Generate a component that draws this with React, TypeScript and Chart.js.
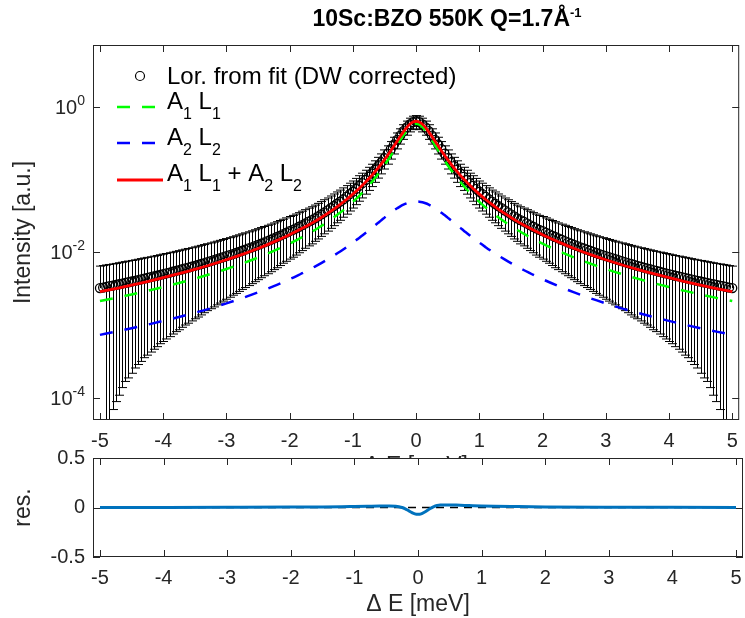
import React, { useEffect, useRef } from 'react';
import { Chart, registerables } from 'chart.js';

Chart.register(...registerables);

const FONT = '"Liberation Sans", Arial, Helvetica, sans-serif';
const AXIS = '#262626';

// ---- measured data (energy transfer, meV) ----
const energy = [
  -5, -4.95, -4.9, -4.85, -4.8, -4.75, -4.7, -4.65, -4.6, -4.55,
  -4.5, -4.45, -4.4, -4.35, -4.3, -4.25, -4.2, -4.15, -4.1, -4.05,
  -4, -3.95, -3.9, -3.85, -3.8, -3.75, -3.7, -3.65, -3.6, -3.55,
  -3.5, -3.45, -3.4, -3.35, -3.3, -3.25, -3.2, -3.15, -3.1, -3.05,
  -3, -2.95, -2.9, -2.85, -2.8, -2.75, -2.7, -2.65, -2.6, -2.55,
  -2.5, -2.45, -2.4, -2.35, -2.3, -2.25, -2.2, -2.15, -2.1, -2.05,
  -2, -1.95, -1.9, -1.85, -1.8, -1.75, -1.7, -1.65, -1.6, -1.55,
  -1.5, -1.45, -1.4, -1.35, -1.3, -1.25, -1.2, -1.15, -1.1, -1.05,
  -1, -0.95, -0.9, -0.85, -0.8, -0.75, -0.7, -0.65, -0.6, -0.55,
  -0.5, -0.45, -0.4, -0.35, -0.3, -0.25, -0.2, -0.15, -0.1, -0.05,
  0,
  0.05, 0.1, 0.15, 0.2, 0.25, 0.3, 0.35, 0.4, 0.45, 0.5,
  0.55, 0.6, 0.65, 0.7, 0.75, 0.8, 0.85, 0.9, 0.95, 1,
  1.05, 1.1, 1.15, 1.2, 1.25, 1.3, 1.35, 1.4, 1.45, 1.5,
  1.55, 1.6, 1.65, 1.7, 1.75, 1.8, 1.85, 1.9, 1.95, 2,
  2.05, 2.1, 2.15, 2.2, 2.25, 2.3, 2.35, 2.4, 2.45, 2.5,
  2.55, 2.6, 2.65, 2.7, 2.75, 2.8, 2.85, 2.9, 2.95, 3,
  3.05, 3.1, 3.15, 3.2, 3.25, 3.3, 3.35, 3.4, 3.45, 3.5,
  3.55, 3.6, 3.65, 3.7, 3.75, 3.8, 3.85, 3.9, 3.95, 4,
  4.05, 4.1, 4.15, 4.2, 4.25, 4.3, 4.35, 4.4, 4.45, 4.5,
  4.55, 4.6, 4.65, 4.7, 4.75, 4.8, 4.85, 4.9, 4.95, 5,
];

const intensity = [
  0.00324, 0.0033, 0.00337, 0.00344, 0.00351, 0.00358, 0.00366, 0.00374, 0.00382, 0.0039,
  0.00399, 0.00408, 0.00417, 0.00427, 0.00437, 0.00447, 0.00457, 0.00468, 0.00479, 0.00492,
  0.00504, 0.00516, 0.0053, 0.00543, 0.00558, 0.00572, 0.00588, 0.00604, 0.0062, 0.00637,
  0.00656, 0.00674, 0.00694, 0.00715, 0.00737, 0.00759, 0.00783, 0.00808, 0.00833, 0.0086,
  0.00888, 0.00918, 0.0095, 0.00982, 0.01017, 0.01054, 0.01092, 0.01133, 0.01176, 0.01221,
  0.01269, 0.0132, 0.01374, 0.01432, 0.01493, 0.01558, 0.01627, 0.01701, 0.01781, 0.01866,
  0.0196, 0.0204, 0.0214, 0.0225, 0.0237, 0.025, 0.0264, 0.0277, 0.0294, 0.0312,
  0.0332, 0.0354, 0.0377, 0.0404, 0.0433, 0.0465, 0.0496, 0.0536, 0.058, 0.063,
  0.068, 0.0744, 0.0816, 0.089, 0.0985, 0.109, 0.121, 0.136, 0.153, 0.172,
  0.197, 0.226, 0.261, 0.302, 0.349, 0.401, 0.46, 0.519, 0.572, 0.611,
  0.624,
  0.611, 0.572, 0.519, 0.46, 0.401, 0.349, 0.302, 0.261, 0.226, 0.197,
  0.172, 0.153, 0.136, 0.121, 0.109, 0.0985, 0.089, 0.0816, 0.0744, 0.068,
  0.063, 0.058, 0.0536, 0.0496, 0.0465, 0.0433, 0.0404, 0.0377, 0.0354, 0.0332,
  0.0312, 0.0294, 0.0277, 0.0264, 0.025, 0.0237, 0.0225, 0.0214, 0.0204, 0.0196,
  0.01866, 0.01781, 0.01701, 0.01627, 0.01558, 0.01493, 0.01432, 0.01374, 0.0132, 0.01269,
  0.01221, 0.01176, 0.01133, 0.01092, 0.01054, 0.01017, 0.00982, 0.0095, 0.00918, 0.00888,
  0.0086, 0.00833, 0.00808, 0.00783, 0.00759, 0.00737, 0.00715, 0.00694, 0.00674, 0.00656,
  0.00637, 0.0062, 0.00604, 0.00588, 0.00572, 0.00558, 0.00543, 0.0053, 0.00516, 0.00504,
  0.00492, 0.00479, 0.00468, 0.00457, 0.00447, 0.00437, 0.00427, 0.00417, 0.00408, 0.00399,
  0.0039, 0.00382, 0.00374, 0.00366, 0.00358, 0.00351, 0.00344, 0.00337, 0.0033, 0.00324,
];

const intensityErr = [
  0.00325, 0.0033, 0.00335, 0.0034, 0.00344, 0.00349, 0.00355, 0.0036, 0.00365, 0.00371,
  0.00377, 0.00382, 0.00388, 0.00395, 0.00401, 0.00408, 0.00414, 0.00421, 0.00428, 0.00436,
  0.00444, 0.00451, 0.0046, 0.00467, 0.00476, 0.00485, 0.00494, 0.00503, 0.00513, 0.00522,
  0.00533, 0.00544, 0.00555, 0.00566, 0.00578, 0.0059, 0.00604, 0.00617, 0.00631, 0.00645,
  0.0066, 0.00675, 0.00691, 0.00708, 0.00725, 0.00743, 0.00762, 0.00782, 0.00803, 0.00824,
  0.00846, 0.0087, 0.00895, 0.00922, 0.00949, 0.00977, 0.0101, 0.0104, 0.0107, 0.0111,
  0.0115, 0.0118, 0.0122, 0.0126, 0.0131, 0.0136, 0.0141, 0.0146, 0.0152, 0.0159,
  0.0166, 0.0174, 0.0181, 0.019, 0.02, 0.021, 0.022, 0.0232, 0.0245, 0.026,
  0.0274, 0.0292, 0.0312, 0.0331, 0.0355, 0.0381, 0.041, 0.0445, 0.0484, 0.0525,
  0.0577, 0.0636, 0.0703, 0.0779, 0.0861, 0.095, 0.1045, 0.1137, 0.1218, 0.1275,
  0.1294,
  0.1275, 0.1218, 0.1137, 0.1045, 0.095, 0.0861, 0.0779, 0.0703, 0.0636, 0.0577,
  0.0525, 0.0484, 0.0445, 0.041, 0.0381, 0.0355, 0.0331, 0.0312, 0.0292, 0.0274,
  0.026, 0.0245, 0.0232, 0.022, 0.021, 0.02, 0.019, 0.0181, 0.0174, 0.0166,
  0.0159, 0.0152, 0.0146, 0.0141, 0.0136, 0.0131, 0.0126, 0.0122, 0.0118, 0.0115,
  0.0111, 0.0107, 0.0104, 0.0101, 0.00977, 0.00949, 0.00922, 0.00895, 0.0087, 0.00846,
  0.00824, 0.00803, 0.00782, 0.00762, 0.00743, 0.00725, 0.00708, 0.00691, 0.00675, 0.0066,
  0.00645, 0.00631, 0.00617, 0.00604, 0.0059, 0.00578, 0.00566, 0.00555, 0.00544, 0.00533,
  0.00522, 0.00513, 0.00503, 0.00494, 0.00485, 0.00476, 0.00467, 0.0046, 0.00451, 0.00444,
  0.00436, 0.00428, 0.00421, 0.00414, 0.00408, 0.00401, 0.00395, 0.00388, 0.00382, 0.00377,
  0.00371, 0.00365, 0.0036, 0.00355, 0.00349, 0.00344, 0.0034, 0.00335, 0.0033, 0.00325,
];

// ---- fitted components ----
const fitEnergy = [
  -5, -4.75, -4.5, -4.25, -4, -3.75, -3.5, -3.25, -3, -2.75, -2.5, -2.25,
  -2, -1.9, -1.8, -1.7, -1.6, -1.5, -1.4, -1.3, -1.2, -1.1,
  -1, -0.95, -0.9, -0.85, -0.8, -0.75, -0.7, -0.65, -0.6, -0.55,
  -0.5, -0.45, -0.4, -0.35, -0.3, -0.25, -0.2, -0.15, -0.1, -0.05,
  0,
  0.05, 0.1, 0.15, 0.2, 0.25, 0.3, 0.35, 0.4, 0.45, 0.5,
  0.55, 0.6, 0.65, 0.7, 0.75, 0.8, 0.85, 0.9, 0.95, 1,
  1.1, 1.2, 1.3, 1.4, 1.5, 1.6, 1.7, 1.8, 1.9, 2,
  2.25, 2.5, 2.75, 3, 3.25, 3.5, 3.75, 4, 4.25, 4.5, 4.75, 5,
];

const lor1 = [
  0.00215, 0.00238, 0.00265, 0.00297, 0.00335, 0.00381, 0.00437, 0.00506, 0.00593, 0.00705, 0.0085, 0.0105,
  0.0132, 0.0146, 0.0162, 0.0181, 0.0203, 0.023, 0.0263, 0.0303, 0.0352, 0.0414,
  0.0494, 0.0542, 0.0597, 0.0661, 0.0736, 0.0823, 0.0925, 0.1046, 0.1191, 0.1364,
  0.1573, 0.1825, 0.2132, 0.2503, 0.2948, 0.3469, 0.4056, 0.467, 0.5237, 0.5648,
  0.58,
  0.5648, 0.5237, 0.467, 0.4056, 0.3469, 0.2948, 0.2503, 0.2132, 0.1825, 0.1573,
  0.1364, 0.1191, 0.1046, 0.0925, 0.0823, 0.0736, 0.0661, 0.0597, 0.0542, 0.0494,
  0.0414, 0.0352, 0.0303, 0.0263, 0.023, 0.0203, 0.0181, 0.0162, 0.0146, 0.0132,
  0.0105, 0.0085, 0.00705, 0.00593, 0.00506, 0.00437, 0.00381, 0.00335, 0.00297, 0.00265, 0.00238, 0.00215,
];

const lor2 = [
  0.00074, 0.00082, 0.00091, 0.00102, 0.00115, 0.0013, 0.00149, 0.00171, 0.002, 0.00236, 0.00283, 0.00345,
  0.00429, 0.0047, 0.00519, 0.00574, 0.00639, 0.00714, 0.00803, 0.00908, 0.0103, 0.0118,
  0.0136, 0.0147, 0.0158, 0.0171, 0.0185, 0.02, 0.0217, 0.0235, 0.0255, 0.0277,
  0.03, 0.0325, 0.035, 0.0377, 0.0403, 0.0429, 0.0452, 0.0472, 0.0487, 0.0497,
  0.05,
  0.0497, 0.0487, 0.0472, 0.0452, 0.0429, 0.0403, 0.0377, 0.035, 0.0325, 0.03,
  0.0277, 0.0255, 0.0235, 0.0217, 0.02, 0.0185, 0.0171, 0.0158, 0.0147, 0.0136,
  0.0118, 0.0103, 0.00908, 0.00803, 0.00714, 0.00639, 0.00574, 0.00519, 0.0047, 0.00429,
  0.00345, 0.00283, 0.00236, 0.002, 0.00171, 0.00149, 0.0013, 0.00115, 0.00102, 0.00091, 0.00082, 0.00074,
];

// ---- residuals ----
const resEnergy = [
  -5, -4, -3, -2, -1.5, -1.2, -1, -0.8, -0.6, -0.45, -0.35, -0.3, -0.25, -0.2, -0.15, -0.1, -0.05,
  0,
  0.05, 0.1, 0.15, 0.2, 0.25, 0.3, 0.35, 0.45, 0.6, 0.8, 1, 1.2, 1.5, 2, 3, 4, 5,
];
const residual = [
  0.001, 0.001, 0.002, 0.004, 0.006, 0.008, 0.01, 0.012, 0.014, 0.015, 0.013, 0.008, 0.0, -0.014, -0.032, -0.05, -0.064,
  -0.069,
  -0.064, -0.048, -0.028, -0.008, 0.01, 0.02, 0.025, 0.026, 0.024, 0.02, 0.016, 0.013, 0.01, 0.006, 0.003, 0.002, 0.001,
];

const xTicks = [-5, -4, -3, -2, -1, 0, 1, 2, 3, 4, 5];
const topYTicks = [1e-4, 1e-2, 1];
const topYTickExp = ['-4', '-2', '0'];
const resYTicks = [-0.5, 0, 0.5];
const resYTickLabels = ['-0.5', '0', '0.5'];

const TL = 7;

type Part = { t: string; s?: 'sub' | 'sup' };

function drawRich(ctx: CanvasRenderingContext2D, parts: Part[], x: number, baseline: number, size: number, small: number, dySub: number, dySup: number, weight = '') {
  let cx = x;
  ctx.textAlign = 'left';
  ctx.textBaseline = 'alphabetic';
  for (const p of parts) {
    const fs = p.s ? small : size;
    ctx.font = `${weight} ${fs}px ${FONT}`;
    const dy = p.s === 'sub' ? dySub : p.s === 'sup' ? -dySup : 0;
    ctx.fillText(p.t, cx, baseline + dy);
    cx += ctx.measureText(p.t).width;
  }
  return cx - x;
}

function measureRich(ctx: CanvasRenderingContext2D, parts: Part[], size: number, small: number, weight = '') {
  let w = 0;
  for (const p of parts) {
    ctx.font = `${weight} ${p.s ? small : size}px ${FONT}`;
    w += ctx.measureText(p.t).width;
  }
  return w;
}

function drawVLabel(ctx: CanvasRenderingContext2D, text: string, x: number, y: number, size: number) {
  ctx.save();
  ctx.translate(x, y);
  ctx.rotate(-Math.PI / 2);
  ctx.font = `${size}px ${FONT}`;
  ctx.fillStyle = AXIS;
  ctx.textAlign = 'center';
  ctx.textBaseline = 'middle';
  ctx.fillText(text, 0, 0);
  ctx.restore();
}

function drawFrame(chart: any, yTicks: number[]) {
  const { ctx, chartArea: a, scales } = chart;
  ctx.save();
  ctx.strokeStyle = AXIS;
  ctx.lineWidth = 1;
  ctx.beginPath();
  xTicks.forEach((t) => {
    const p = Math.round(scales.x.getPixelForValue(t)) + 0.5;
    ctx.moveTo(p, a.bottom);
    ctx.lineTo(p, a.bottom - TL);
    ctx.moveTo(p, a.top);
    ctx.lineTo(p, a.top + TL);
  });
  yTicks.forEach((t) => {
    const p = Math.round(scales.y.getPixelForValue(t)) + 0.5;
    ctx.moveTo(a.left, p);
    ctx.lineTo(a.left + TL, p);
    ctx.moveTo(a.right, p);
    ctx.lineTo(a.right - TL, p);
  });
  ctx.stroke();
  ctx.strokeRect(a.left + 0.5, a.top + 0.5, a.right - a.left - 1, a.bottom - a.top - 1);
  ctx.fillStyle = AXIS;
  ctx.font = `20px ${FONT}`;
  ctx.textAlign = 'center';
  ctx.textBaseline = 'middle';
  xTicks.forEach((t) => ctx.fillText(String(t), scales.x.getPixelForValue(t), a.bottom + 21));
  ctx.restore();
}

const errorBarsPlugin = {
  id: 'errorBars',
  beforeDatasetsDraw(chart: any) {
    const { ctx, chartArea: a, scales } = chart;
    const xs = scales.x;
    const ys = scales.y;
    ctx.save();
    ctx.beginPath();
    ctx.rect(a.left, a.top, a.right - a.left, a.bottom - a.top);
    ctx.clip();
    ctx.strokeStyle = '#000';
    ctx.lineWidth = 1;
    ctx.beginPath();
    const cap = 4.5;
    energy.forEach((e, i) => {
      const px = Math.round(xs.getPixelForValue(e)) + 0.5;
      const v = intensity[i];
      const d = intensityErr[i];
      const pv = ys.getPixelForValue(v);
      const pu = ys.getPixelForValue(v + d);
      ctx.moveTo(px, pv);
      ctx.lineTo(px, pu);
      ctx.moveTo(px - cap, pu);
      ctx.lineTo(px + cap, pu);
      if (v - d > 0) {
        const pl = ys.getPixelForValue(v - d);
        ctx.moveTo(px, pv);
        ctx.lineTo(px, pl);
        ctx.moveTo(px - cap, pl);
        ctx.lineTo(px + cap, pl);
      }
    });
    ctx.stroke();
    ctx.restore();
  },
};

const LEG = 24;
const LEG_SUB = 16;

const topDecor = {
  id: 'topDecor',
  afterDraw(chart: any) {
    const { ctx, chartArea: a, scales } = chart;
    drawFrame(chart, topYTicks);
    ctx.save();
    // y tick labels 10^n
    ctx.fillStyle = AXIS;
    topYTicks.forEach((t, i) => {
      const py = scales.y.getPixelForValue(t);
      const parts: Part[] = [{ t: '10' }, { t: topYTickExp[i], s: 'sup' }];
      const w = measureRich(ctx, parts, 20, 14);
      drawRich(ctx, parts, 85 - w, py + 7, 20, 14, 0, 9);
    });
    // axis labels
    drawVLabel(ctx, 'Intensity [a.u.]', 24, (a.top + a.bottom) / 2, 23);
    ctx.fillStyle = AXIS;
    ctx.font = `23px ${FONT}`;
    ctx.textAlign = 'center';
    ctx.textBaseline = 'middle';
    ctx.fillText('\u0394 E [meV]', (a.left + a.right) / 2, 467);
    // title
    ctx.fillStyle = '#000';
    const tparts: Part[] = [{ t: '10Sc:BZO 550K Q=1.7\u00C5' }, { t: '-1', s: 'sup' }];
    const tw = measureRich(ctx, tparts, 23, 13, 'bold');
    drawRich(ctx, tparts, 447 - tw / 2, 26, 23, 13, 0, 9, 'bold');
    // legend
    const lx0 = 117;
    const lx1 = 163;
    const tx = 167;
    ctx.fillStyle = '#000';
    ctx.strokeStyle = '#000';
    ctx.lineWidth = 1.2;
    ctx.beginPath();
    ctx.arc(140, 76, 4.5, 0, Math.PI * 2);
    ctx.stroke();
    drawRich(ctx, [{ t: 'Lor. from fit (DW corrected)' }], tx, 84, LEG, LEG_SUB, 10, 9);
    ctx.lineWidth = 2.5;
    ctx.setLineDash([13, 12]);
    ctx.strokeStyle = '#00ff00';
    ctx.beginPath();
    ctx.moveTo(lx0, 107);
    ctx.lineTo(lx1, 107);
    ctx.stroke();
    drawRich(ctx, [{ t: 'A' }, { t: '1', s: 'sub' }, { t: ' L' }, { t: '1', s: 'sub' }], tx, 109, LEG, LEG_SUB, 10, 9);
    ctx.strokeStyle = '#0000ff';
    ctx.beginPath();
    ctx.moveTo(lx0, 143);
    ctx.lineTo(lx1, 143);
    ctx.stroke();
    drawRich(ctx, [{ t: 'A' }, { t: '2', s: 'sub' }, { t: ' L' }, { t: '2', s: 'sub' }], tx, 145, LEG, LEG_SUB, 10, 9);
    ctx.setLineDash([]);
    ctx.lineWidth = 2.8;
    ctx.strokeStyle = '#ff0000';
    ctx.beginPath();
    ctx.moveTo(lx0, 180);
    ctx.lineTo(lx1, 180);
    ctx.stroke();
    drawRich(
      ctx,
      [{ t: 'A' }, { t: '1', s: 'sub' }, { t: ' L' }, { t: '1', s: 'sub' }, { t: ' + A' }, { t: '2', s: 'sub' }, { t: ' L' }, { t: '2', s: 'sub' }],
      tx, 181, LEG, LEG_SUB, 10, 9,
    );
    ctx.restore();
  },
};

const botDecor = {
  id: 'botDecor',
  beforeDraw(chart: any) {
    const { ctx, chartArea: a } = chart;
    ctx.save();
    ctx.fillStyle = '#fff';
    ctx.fillRect(a.left, a.top, a.right - a.left, a.bottom - a.top);
    ctx.restore();
  },
  afterDraw(chart: any) {
    const { ctx, chartArea: a, scales } = chart;
    drawFrame(chart, resYTicks);
    ctx.save();
    ctx.fillStyle = AXIS;
    ctx.font = `20px ${FONT}`;
    ctx.textAlign = 'right';
    ctx.textBaseline = 'middle';
    resYTicks.forEach((t, i) => ctx.fillText(resYTickLabels[i], 85, scales.y.getPixelForValue(t)));
    drawVLabel(ctx, 'res.', 24, (a.top + a.bottom) / 2, 23);
    ctx.fillStyle = AXIS;
    ctx.font = `23px ${FONT}`;
    ctx.textAlign = 'center';
    ctx.textBaseline = 'middle';
    ctx.fillText('\u0394 E [meV]', (a.left + a.right) / 2, 165);
    ctx.restore();
  },
};

export default function App() {
  const topRef = useRef<HTMLCanvasElement>(null);
  const botRef = useRef<HTMLCanvasElement>(null);

  useEffect(() => {
    const lorSum = lor1.map((v, i) => v + lor2[i]);
    const top = new Chart(topRef.current as HTMLCanvasElement, {
      type: 'line',
      data: {
        datasets: [
          {
            label: 'Lor. from fit (DW corrected)',
            data: energy.map((x, i) => ({ x, y: intensity[i] })),
            showLine: false,
            pointRadius: 4.5,
            pointBorderWidth: 1.3,
            pointBorderColor: '#000',
            pointBackgroundColor: 'rgba(0,0,0,0)',
            order: 4,
          },
          {
            label: 'A1 L1',
            data: fitEnergy.map((x, i) => ({ x, y: lor1[i] })),
            borderColor: '#00ff00',
            borderWidth: 2.5,
            borderDash: [13, 12],
            pointRadius: 0,
            cubicInterpolationMode: 'monotone',
            order: 3,
          },
          {
            label: 'A2 L2',
            data: fitEnergy.map((x, i) => ({ x, y: lor2[i] })),
            borderColor: '#0000ff',
            borderWidth: 2.5,
            borderDash: [13, 12],
            pointRadius: 0,
            cubicInterpolationMode: 'monotone',
            order: 2,
          },
          {
            label: 'A1 L1 + A2 L2',
            data: fitEnergy.map((x, i) => ({ x, y: lorSum[i] })),
            borderColor: '#ff0000',
            borderWidth: 2.8,
            pointRadius: 0,
            cubicInterpolationMode: 'monotone',
            order: 1,
          },
        ],
      },
      options: {
        responsive: false,
        animation: false,
        devicePixelRatio: 1,
        layout: { padding: { left: 93, right: 2, top: 45, bottom: 60 } },
        scales: {
          x: { type: 'linear', min: -5.11, max: 5.11, display: false },
          y: { type: 'logarithmic', min: 5.03e-5, max: 7.0, display: false },
        },
        plugins: { legend: { display: false }, tooltip: { enabled: false }, title: { display: false } },
      },
      plugins: [errorBarsPlugin, topDecor],
    } as any);

    const bot = new Chart(botRef.current as HTMLCanvasElement, {
      type: 'line',
      data: {
        datasets: [
          {
            label: 'res',
            data: resEnergy.map((x, i) => ({ x, y: residual[i] })),
            borderColor: '#0072BD',
            borderWidth: 3,
            pointRadius: 0,
            cubicInterpolationMode: 'monotone',
            order: 1,
          },
          {
            label: 'zero',
            data: [resEnergy[0], resEnergy[resEnergy.length - 1]].map((x) => ({ x, y: 0 })),
            borderColor: '#000',
            borderWidth: 1.5,
            borderDash: [8, 6],
            pointRadius: 0,
            order: 2,
          },
        ],
      },
      options: {
        responsive: false,
        animation: false,
        devicePixelRatio: 1,
        layout: { padding: { left: 93, right: 2, top: 18, bottom: 61 } },
        scales: {
          x: { type: 'linear', min: -5.11, max: 5.11, display: false },
          y: { type: 'linear', min: -0.5, max: 0.5, display: false },
        },
        plugins: { legend: { display: false }, tooltip: { enabled: false }, title: { display: false } },
      },
      plugins: [botDecor],
    } as any);

    return () => {
      top.destroy();
      bot.destroy();
    };
  }, []);

  return (
    <div style={{ position: 'absolute', left: 0, top: 0, width: 745, height: 618, background: '#fff', overflow: 'hidden' }}>
      <canvas ref={topRef} width={745} height={480} style={{ position: 'absolute', left: 0, top: 0 }} />
      <canvas ref={botRef} width={745} height={178} style={{ position: 'absolute', left: 0, top: 440 }} />
    </div>
  );
}
